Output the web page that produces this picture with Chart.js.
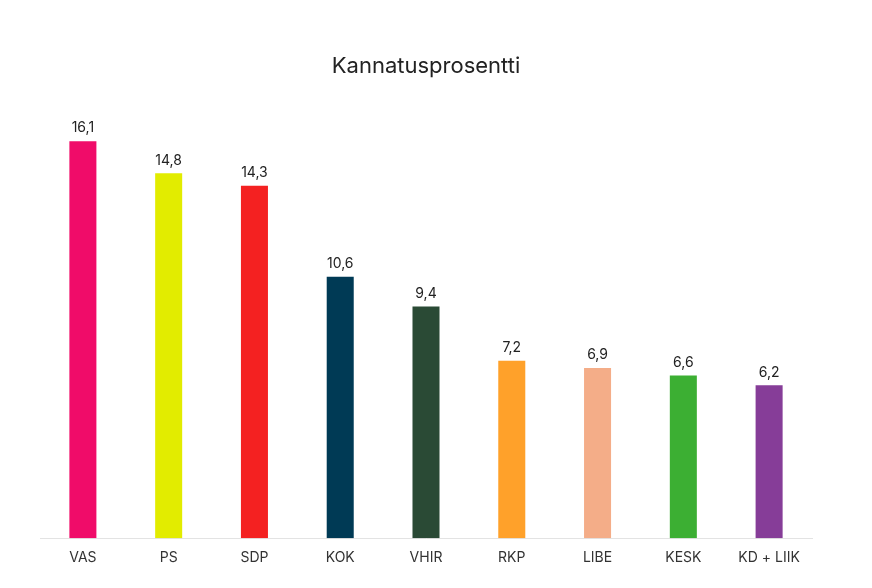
<!DOCTYPE html>
<html><head><meta charset="utf-8">
<script src="https://cdn.jsdelivr.net/npm/chart.js@4"></script>
<style>html,body{margin:0;padding:0;background:#fff}#wrap{width:872px;height:588px}</style>
</head><body><div id="wrap"><canvas id="c"></canvas></div>
<script>
const categories = ["VAS","PS","SDP","KOK","VHIR","RKP","LIBE","KESK","KD + LIIK"];
const values = [16.1,14.8,14.3,10.6,9.4,7.2,6.9,6.6,6.2];
const colors = ["#F00C69","#E2EC00","#F42121","#003A55","#2A4A35","#FFA12A","#F4AD88","#3CAF33","#863D98"];
const yMax = 18;

const labelPlugin = {
  id: 'vlabels',
  afterDatasetsDraw(chart) {
    const ctx = chart.ctx;
    const meta = chart.getDatasetMeta(0);
    ctx.save();
    ctx.font = '14px Inter, "Liberation Sans", sans-serif';
    ctx.fillStyle = '#222';
    ctx.textAlign = 'center';
    ctx.textBaseline = 'bottom';
    meta.data.forEach((bar, i) => {
      ctx.fillText(String(values[i]).replace('.', ','), bar.x, bar.y - 6);
    });
    ctx.restore();
  }
};

new Chart(document.getElementById('c'), {
  type: 'bar',
  data: { labels: categories, datasets: [{ data: values, backgroundColor: colors, borderWidth: 0, barPercentage: 0.315, categoryPercentage: 1 }] },
  options: {
    responsive: true, maintainAspectRatio: false, animation: false,
    layout: { padding: { left: 40, right: 60, top: 53, bottom: 11 } },
    plugins: {
      legend: { display: false }, tooltip: { enabled: false },
      title: { display: true, text: 'Kannatusprosentti', color: '#222', font: { family: 'Inter, "Liberation Sans", sans-serif', size: 22, weight: 'normal' }, padding: { top: 0, bottom: 15 } }
    },
    scales: {
      x: { grid: { display: false, drawTicks: false }, border: { display: true, color: '#e3e3e3', width: 1 },
           ticks: { color: '#333', padding: 11, font: { family: 'Inter, "Liberation Sans", sans-serif', size: 14 } } },
      y: { display: false, min: 0, max: yMax }
    }
  },
  plugins: [labelPlugin]
});
</script></body></html>
